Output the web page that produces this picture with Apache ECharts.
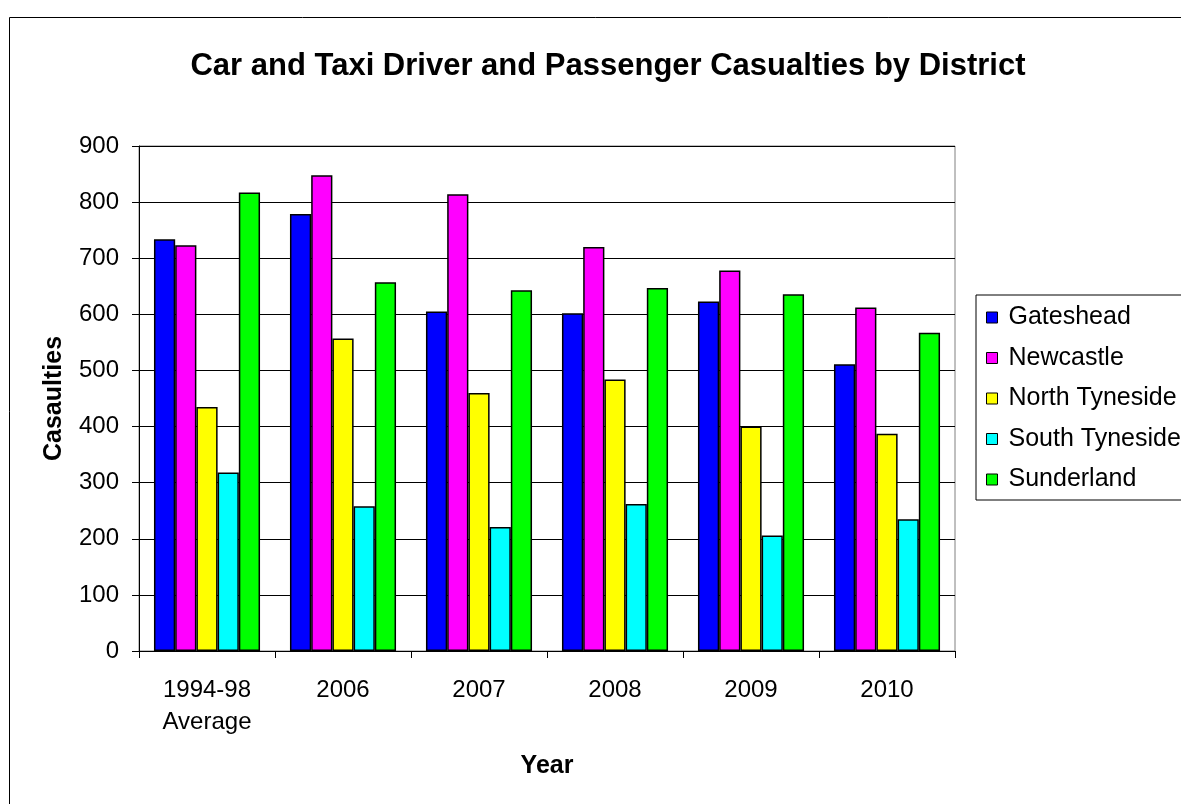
<!DOCTYPE html>
<html>
<head>
<meta charset="utf-8">
<script src="https://cdn.jsdelivr.net/npm/echarts@6/dist/echarts.min.js"></script>
<style>
html,body{margin:0;padding:0;background:#fff;}
#c{width:1181px;height:804px;}
</style>
</head>
<body>
<div id="c"></div>
<script>
var categories = ['1994-98\nAverage', '2006', '2007', '2008', '2009', '2010'];
var gateshead = [734, 779, 605, 602, 623, 511];
var newcastle = [723, 848, 814, 720, 678, 612];
var northTyneside = [435, 557, 460, 484, 400, 387];
var southTyneside = [318, 258, 221, 262, 206, 235];
var sunderland = [817, 657, 643, 647, 636, 567];
var yTicks = [0, 100, 200, 300, 400, 500, 600, 700, 800, 900];

var seriesNames = ['Gateshead', 'Newcastle', 'North Tyneside', 'South Tyneside', 'Sunderland'];
var seriesData = [gateshead, newcastle, northTyneside, southTyneside, sunderland];
var colors = ['#0000FF', '#FF00FF', '#FFFF00', '#00FFFF', '#00FF00'];

var FONT = '"Liberation Sans", Arial, sans-serif';
var chart = echarts.init(document.getElementById('c'), null, {renderer: 'canvas'});

var series = seriesNames.map(function (n, i) {
  return {
    name: n,
    type: 'bar',
    data: seriesData[i],
    barGap: '0%',
    barCategoryGap: '22%',
    itemStyle: {color: colors[i], borderColor: '#000', borderWidth: 1.5},
    emphasis: {disabled: true},
    animation: false
  };
});

chart.setOption({
  animation: false,
  backgroundColor: '#fff',
  textStyle: {fontFamily: FONT},
  title: {
    text: 'Car and Taxi Driver and Passenger Casualties by District',
    left: 603, top: 46, textAlign: 'center',
    textStyle: {fontFamily: FONT, fontSize: 31, fontWeight: 'bold', color: '#000'}
  },
  graphic: [{
    type: 'rect',
    shape: {x: 9.5, y: 17.5, width: 1400, height: 1000},
    style: {fill: null, stroke: '#000', lineWidth: 1},
    silent: true, z: -10
  }],
  legend: {
    orient: 'vertical',
    left: 976, top: 295,
    padding: [10, 40, 8, 10],
    itemGap: 15.5,
    itemWidth: 11, itemHeight: 11,
    icon: 'rect',
    borderColor: '#000', borderWidth: 1,
    itemStyle: {borderColor: '#000', borderWidth: 1},
    textStyle: {fontFamily: FONT, fontSize: 25, color: '#000', padding: [0, 0, 0, 6]},
    data: seriesNames
  },
  grid: {
    left: 139, top: 146, width: 816, height: 505,
    show: true, borderColor: '#808080', borderWidth: 1,
    containLabel: false
  },
  xAxis: {
    type: 'category',
    data: categories,
    name: 'Year',
    nameLocation: 'middle',
    nameGap: 103,
    nameTextStyle: {fontFamily: FONT, fontSize: 25, fontWeight: 'bold', color: '#000'},
    axisLine: {lineStyle: {color: '#000', width: 1}},
    axisTick: {show: true, length: 7, lineStyle: {color: '#000'}},
    axisLabel: {fontFamily: FONT, fontSize: 24, color: '#000', margin: 23, lineHeight: 32},
    splitLine: {show: false}
  },
  yAxis: {
    type: 'value',
    min: 0, max: 900, interval: 100,
    name: 'Casaulties',
    nameLocation: 'middle',
    nameGap: 72,
    nameRotate: 90,
    nameTextStyle: {fontFamily: FONT, fontSize: 25, fontWeight: 'bold', color: '#000'},
    axisLine: {show: true, lineStyle: {color: '#000', width: 1}},
    axisTick: {show: true, length: 7, lineStyle: {color: '#000'}},
    axisLabel: {fontFamily: FONT, fontSize: 24, color: '#000', margin: 20,
      formatter: function (v) { return yTicks.indexOf(v) >= 0 ? String(v) : ''; }},
    splitLine: {show: true, lineStyle: {color: '#000', width: 1}}
  },
  series: series
});
</script>
</body>
</html>
